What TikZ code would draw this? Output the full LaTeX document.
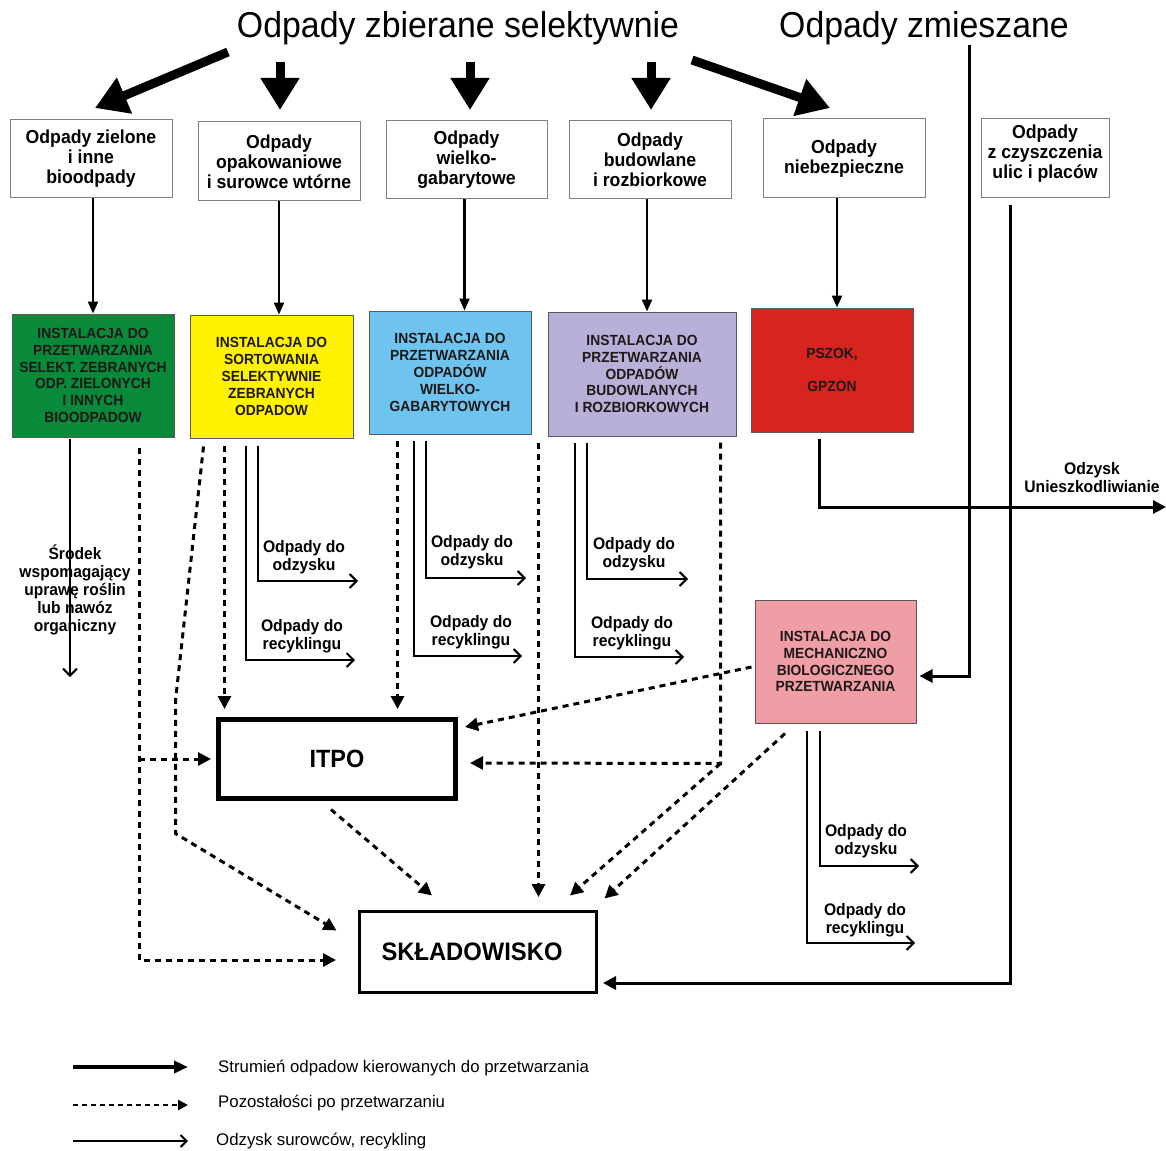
\documentclass[tikz,border=0pt]{standalone}
\usepackage{fontspec}
\setmainfont{Liberation Sans}[FakeStretch=0.94]
\newfontfamily\legendf{Liberation Sans}
\usetikzlibrary{arrows.meta,calc}
\definecolor{cgreen}{RGB}{8,138,58}
\definecolor{cyellow}{RGB}{255,242,0}
\definecolor{cblue}{RGB}{110,196,238}
\definecolor{clav}{RGB}{184,176,216}
\definecolor{cred}{RGB}{216,36,30}
\definecolor{cpink}{RGB}{240,158,166}
\definecolor{cborder}{RGB}{128,128,128}
\definecolor{cdark}{RGB}{90,90,90}
\definecolor{ctext}{RGB}{30,24,24}
\newcommand{\fsz}[2]{\fontsize{#1}{#2}\selectfont}
\begin{document}
\begin{tikzpicture}[x=1pt,y=-1pt,
  wbox/.style={draw=cborder,line width=1pt,fill=white,align=center,inner sep=0pt,font=\bfseries\fsz{18.8}{20}},
  ibox/.style={draw=cdark,line width=1pt,align=center,inner sep=0pt,text=ctext,font=\bfseries\fsz{14.7}{16.8}},
  ttl/.style={inner sep=0pt,font=\fsz{36}{40}},
  lbl/.style={inner sep=0pt,align=center,font=\bfseries\fsz{16.7}{18}},
  leg/.style={inner sep=0pt,anchor=west,font=\legendf\fsz{16.8}{18}},
  bigarrow/.style={line width=9pt,-{Triangle[length=32pt,width=37pt]}},
  flow/.style={line width=2.2pt,-{Triangle[length=12pt,width=10pt]}},
  mixed/.style={line width=3pt,-{Triangle[length=13pt,width=13pt]}},
  resid/.style={line width=3pt,dash pattern=on 6pt off 5pt,-{Triangle[length=13pt,width=13pt]}},
  recyc/.style={line width=2pt,-{Straight Barb[length=7pt,width=14pt]}},
]
\fill[white] (0,0) rectangle (1166,1150);
\useasboundingbox (0,0) rectangle (1166,1150);

% titles
\node[ttl] (t1) at (458,28) {Odpady zbierane selektywnie};
\node[ttl] (t2) at (924,28) {Odpady zmieszane};

% big arrows
\coordinate (a1s) at (228,52); \coordinate (a1e) at (95,108);
\coordinate (a2s) at (280,62); \coordinate (a2e) at (280,110);
\coordinate (a3s) at (470,62); \coordinate (a3e) at (470,110);
\coordinate (a4s) at (651,62); \coordinate (a4e) at (651,110);
\coordinate (a5s) at (692,60); \coordinate (a5e) at (830,108);
\draw[bigarrow] (a1s) -- (a1e);
\draw[bigarrow] (a2s) -- (a2e);
\draw[bigarrow] (a3s) -- (a3e);
\draw[bigarrow] (a4s) -- (a4e);
\draw[bigarrow] (a5s) -- (a5e);

% source boxes
\node[wbox,minimum width=162,minimum height=78] (B1) at (91,159) {Odpady zielone\\i inne\\bioodpady};
\node[wbox,minimum width=162,minimum height=79] (B2) at (279,161.5) {Odpady\\opakowaniowe\\i surowce wtórne};
\node[wbox,minimum width=161,minimum height=78] (B3) at (466.5,160) {Odpady\\wielko-\\gabarytowe};
\node[wbox,minimum width=162,minimum height=78] (B4) at (650,160) {Odpady\\budowlane\\i rozbiorkowe};
\node[wbox,minimum width=162,minimum height=79] (B5) at (844,158.5) {Odpady\\niebezpieczne};
\node[wbox,minimum width=128,minimum height=79] (B6) at (1045,158.5) {Odpady\\z czyszczenia\\ulic i placów\\[-6pt]\mbox{}};

% installations
\node[ibox,fill=cgreen,minimum width=162,minimum height=123] (G1) at (93,375.5) {INSTALACJA DO\\PRZETWARZANIA\\SELEKT. ZEBRANYCH\\ODP. ZIELONYCH\\I INNYCH\\BIOODPADOW};
\node[ibox,fill=cyellow,minimum width=163,minimum height=123] (Y) at (271.5,376.5) {INSTALACJA DO\\SORTOWANIA\\SELEKTYWNIE\\ZEBRANYCH\\ODPADOW};
\node[ibox,fill=cblue,minimum width=162,minimum height=123] (BL) at (450,372.5) {INSTALACJA DO\\PRZETWARZANIA\\ODPADÓW\\WIELKO-\\GABARYTOWYCH};
\node[ibox,fill=clav,minimum width=188,minimum height=124] (LV) at (642,374) {INSTALACJA DO\\PRZETWARZANIA\\ODPADÓW\\BUDOWLANYCH\\I ROZBIORKOWYCH};
\node[ibox,fill=cred,minimum width=162,minimum height=124] (RD) at (832,370) {PSZOK,\\[16pt]GPZON};
\node[ibox,fill=cpink,minimum width=161,minimum height=123] (MB) at (835.5,661.5) {INSTALACJA DO\\MECHANICZNO\\BIOLOGICZNEGO\\PRZETWARZANIA};

% ITPO and landfill
\node[draw,line width=5pt,minimum width=237,minimum height=79,inner sep=0pt,font=\bfseries\fsz{25}{28}] (ITPO) at (337,759) {ITPO};
\node[draw,line width=3pt,minimum width=237,minimum height=81,inner sep=0pt,font=\bfseries\fsz{25.3}{28}] (SK) at (478,952) {SKŁADOWISKO\hspace*{12pt}};

% flows from sources to installations
\coordinate (b5s) at ($(B5.south)+(-7,0)$);
\draw[flow] (B1.south -| G1.north) -- (G1.north);
\draw[flow] (B2.south) -- (B2.south |- Y.north);
\draw[flow] ($(B3.south)+(-2,0)$) -- ($(B3.south |- BL.north)+(-2,0)$);
\draw[flow] ($(B4.south)+(-3,0)$) -- ($(B4.south |- LV.north)+(-3,0)$);
\draw[flow] (b5s) -- (b5s |- RD.north);

% mixed waste lines
\coordinate (zmtop) at (969,45);
\draw[mixed] (zmtop) |- ($(MB.east)+(3,14.5)$);
\coordinate (b6s) at ($(B6.south)+(-35,7)$);
\draw[mixed] (b6s) |- ($(SK.east)+(5,31)$);

% PSZOK output
\coordinate (rds) at ($(RD.south)+(-13,6)$);
\coordinate (odzend) at (1166,507);
\draw[mixed] (rds) |- (odzend);
\node[lbl] (odz) at (1092,478) {Odzysk\\Unieszkodliwianie};

% green installation
\coordinate (gs) at ($(G1.south)+(-23,1)$);
\coordinate (ge) at (70,677);
\draw[recyc] (gs) -- (ge);
\node[lbl,font=\bfseries\fsz{16.6}{18}] (srodek) at (75,590) {Środek\\wspomagający\\uprawę roślin\\lub nawóz\\organiczny};
\coordinate (gd) at ($(G1.south)+(46,10)$);
\draw[resid] (gd) |- ($(SK.west)+(-22,8)$);
\coordinate (gbr) at (gd |- ITPO.west);
\draw[resid] (gbr) -- ($(ITPO.west)+(-5,0)$);

% yellow installation
\coordinate (yd1) at ($(Y.south west)+(14,8)$);
\draw[resid] (yd1) -- ++(-28,254) -- ++(0,133) -- ($(SK.north west)+(-21.5,20.5)$);
\coordinate (yd2) at ($(Y.south west)+(35,7)$);
\draw[resid,shorten >=8pt] (yd2) -- (yd2 |- ITPO.north);
\coordinate (yr1) at ($(Y.south west)+(56,7)$); \coordinate (yr1e) at (355,660);
\coordinate (yr2) at ($(Y.south west)+(68,7)$); \coordinate (yr2e) at (358,581);
\draw[recyc] (yr1) |- (yr1e);
\draw[recyc] (yr2) |- (yr2e);
\node[lbl] (yl1) at (304,557) {Odpady do\\odzysku};
\node[lbl] (yl2) at (302,636) {Odpady do\\recyklingu};

% blue installation
\coordinate (bd1) at ($(BL.south west)+(29,6)$);
\draw[resid,shorten >=8pt] (bd1) -- (bd1 |- ITPO.north);
\coordinate (br1) at ($(BL.south west)+(45,6)$); \coordinate (br1e) at (522,656);
\coordinate (br2) at ($(BL.south west)+(57,6)$); \coordinate (br2e) at (526,578);
\draw[recyc] (br1) |- (br1e);
\draw[recyc] (br2) |- (br2e);
\node[lbl] (bl1) at (472,552) {Odpady do\\odzysku};
\node[lbl] (bl2) at (471,632) {Odpady do\\recyklingu};
\coordinate (bd2) at ($(BL.south east)+(7,8)$);
\draw[resid,shorten >=13pt] (bd2) -- (bd2 |- SK.north);

% lavender installation
\coordinate (lr1) at ($(LV.south west)+(27,6)$); \coordinate (lr1e) at (684,657);
\coordinate (lr2) at ($(LV.south west)+(39,6)$); \coordinate (lr2e) at (688,579);
\draw[recyc] (lr1) |- (lr1e);
\draw[recyc] (lr2) |- (lr2e);
\node[lbl] (ll1) at (634,554) {Odpady do\\odzysku};
\node[lbl] (ll2) at (632,633) {Odpady do\\recyklingu};
\coordinate (ld) at ($(LV.south east)+(-16,6)$);
\coordinate (lc) at ($(LV.south east)+(-16,327)$);
\draw[resid] (ld) -- (lc) -- ($(ITPO.east)+(12,4)$);
\draw[resid] (lc) -- ($(SK.north)+(92,-14.5)$);

% MBP installation
\draw[resid] ($(MB.west)+(-3,5.5)$) -- ($(ITPO.east)+(7,-32)$);
\draw[resid] ($(MB.south)+(-50.5,10)$) -- ($(SK.north east)+(6.5,-11.5)$);
\coordinate (mr1) at ($(MB.south)+(-28.5,7)$); \coordinate (mr1e) at (915,943);
\coordinate (mr2) at ($(MB.south)+(-15.5,7)$); \coordinate (mr2e) at (919,866);
\draw[recyc] (mr1) |- (mr1e);
\draw[recyc] (mr2) |- (mr2e);
\node[lbl] (ml1) at (866,841) {Odpady do\\odzysku};
\node[lbl] (ml2) at (865,920.5) {Odpady do\\recyklingu};

% ITPO to landfill
\draw[resid] ($(ITPO.south)+(-6,8.5)$) -- ($(SK.north)+(-46,-14.5)$);

% legend
\coordinate (l1s) at (73,1067); \coordinate (l1e) at (188,1067);
\coordinate (l2s) at (73,1105); \coordinate (l2e) at (188,1105);
\coordinate (l3s) at (73,1141); \coordinate (l3e) at (188,1141);
\draw[line width=3.5pt,-{Triangle[length=14pt,width=12pt]}] (l1s) -- (l1e);
\draw[line width=2.5pt,dash pattern=on 5pt off 4pt,-{Triangle[length=10pt,width=10pt]}] (l2s) -- (l2e);
\draw[line width=2pt,-{Straight Barb[length=6pt,width=12pt]}] (l3s) -- (l3e);
\node[leg] (L1) at (218,1068) {Strumień odpadow kierowanych do przetwarzania};
\node[leg] (L2) at (218,1103) {Pozostałości po przetwarzaniu};
\node[leg] (L3) at (216,1141) {Odzysk surowców, recykling};
\end{tikzpicture}
\end{document}
